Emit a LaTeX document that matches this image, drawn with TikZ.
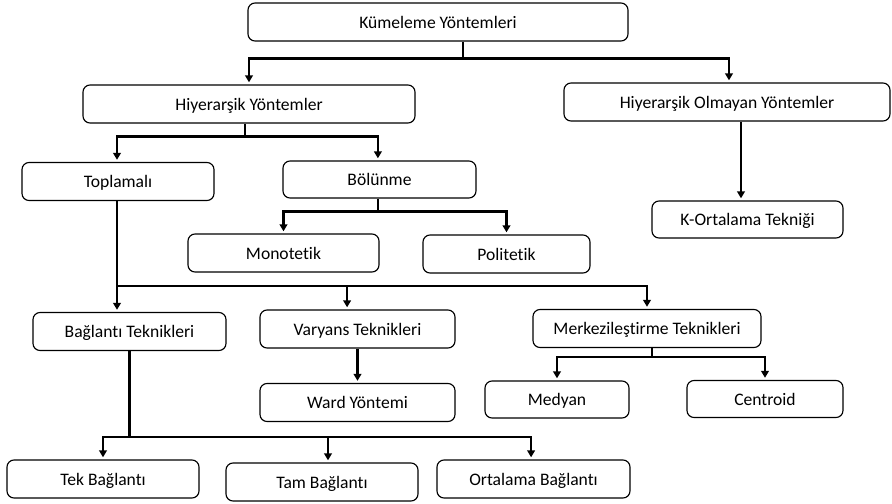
\documentclass[tikz,border=0pt]{standalone}
\usepackage{fontspec}
\setmainfont{Carlito}[Ligatures={NoCommon}]
\usepackage{tikz}
\usetikzlibrary{arrows.meta, positioning}

\begin{document}
\begin{tikzpicture}[
    font=\fontsize{12.5}{15}\selectfont,
    box/.style={draw, line width=0.8pt, minimum height=0.95cm, align=center,
                fill=white, rounded corners=5pt, inner sep=2pt,
                text height=11pt, text depth=2pt},
    line/.style={line width=1.7pt},
    arr/.style={line width=1.7pt, -{Triangle[length=5pt, width=5.5pt]}, shorten >=1.5pt}
]
\useasboundingbox (0,0) rectangle (22.3,-12.575);

% Top levels
\node[box, minimum width=9.5cm]   (kume)  at (10.95, -0.55)   {Kümeleme Yöntemleri};
\node[box, minimum width=8.3cm]   (hiy)   at (6.225, -2.6)    {Hiyerarşik Yöntemler};
\node[box, minimum width=8.15cm]  (hiyol) at (18.175, -2.55)  {Hiyerarşik Olmayan Yöntemler};

% Hierarchical branch
\node[box, minimum width=4.8cm]   (topl)  at (2.95, -4.5375)  {Toplamalı};
\node[box, minimum width=4.825cm, minimum height=0.925cm] (bol) at (9.4875, -4.4875) {Bölünme};
\node[box, minimum width=4.775cm] (mono)  at (7.0875, -6.325) {Monotetik};
\node[box, minimum width=4.175cm] (poli)  at (12.6625, -6.35) {Politetik};

% Non-hierarchical branch
\node[box, minimum width=4.775cm, minimum height=0.925cm] (kort) at (18.6875, -5.4875) {K-Ortalama Tekniği};

% Agglomerative techniques
\node[box, minimum width=4.825cm] (bag)   at (3.2375, -8.2875)  {Bağlantı Teknikleri};
\node[box, minimum width=4.875cm] (var)   at (8.9375, -8.225)   {Varyans Teknikleri};
\node[box, minimum width=4.875cm] (ward)  at (8.9375, -10.0625) {Ward Yöntemi};
\node[box, minimum width=5.7cm]   (merk)  at (16.175, -8.2125)  {Merkezileştirme Teknikleri};
\node[box, minimum width=3.6cm, minimum height=0.925cm] (med) at (13.925, -9.9875) {Medyan};
\node[box, minimum width=3.9cm, minimum height=0.925cm] (cen) at (19.125, -9.975)  {Centroid};

% Linkage types
\node[box, minimum width=4.8cm]   (tek)   at (2.575, -11.975) {Tek Bağlantı};
\node[box, minimum width=4.8cm]   (tam)   at (8.05, -12.05)   {Tam Bağlantı};
\node[box, minimum width=4.825cm] (ort)   at (13.3375, -11.975) {Ortalama Bağlantı};

% Kümeleme Yöntemleri -> two main groups
\draw[line] ([xshift=0.625cm]kume.south) -- ++(0,-0.425) coordinate (k1);
\draw[arr] (k1) -| (hiy.north);
\draw[arr] (k1) -| ([xshift=0.05cm]hiyol.north);

% Hiyerarşik Yöntemler -> Toplamalı, Bölünme
\draw[line] ([xshift=-0.1cm]hiy.south) -- ++(0,-0.325) coordinate (h1);
\draw[arr] (h1) -| ([xshift=-0.025cm]topl.north);
\draw[arr] (h1) -| ([xshift=-0.04cm]bol.north);

% Hiyerarşik Olmayan -> K-Ortalama
\draw[arr] ([xshift=0.35cm]hiyol.south) -- ([xshift=0.35cm]hiyol.south |- kort.north);

% Bölünme -> Monotetik, Politetik
\draw[line] ([xshift=-0.04cm]bol.south) -- ++(0,-0.325) coordinate (b1);
\draw[arr] (b1) -| (mono.north);
\draw[arr] (b1) -| (poli.north);

% Toplamalı -> techniques
\draw[line] ([xshift=-0.025cm]topl.south) -- ++(0,-2.125) coordinate (t1);
\draw[arr] (t1) -- (t1 |- bag.north);
\draw[arr] (t1) -| ([xshift=-0.26cm]var.north);
\draw[arr] (t1) -| (merk.north);

% Varyans -> Ward
\draw[arr] (var.south) -- (ward.north);

% Merkezileştirme -> Medyan, Centroid
\draw[line] ([xshift=0.125cm]merk.south) -- ++(0,-0.225) coordinate (m1);
\draw[arr] (m1) -| (med.north);
\draw[arr] (m1) -| (cen.north);

% Bağlantı Teknikleri -> linkage types
\draw[line] (bag.south) -- ++(0,-2.15) coordinate (l1);
\draw[arr] (l1) -| (tek.north);
\draw[arr] (l1) -| ([xshift=0.15cm]tam.north);
\draw[arr] (l1) -| ([xshift=-0.06cm]ort.north);

\end{tikzpicture}
\end{document}
